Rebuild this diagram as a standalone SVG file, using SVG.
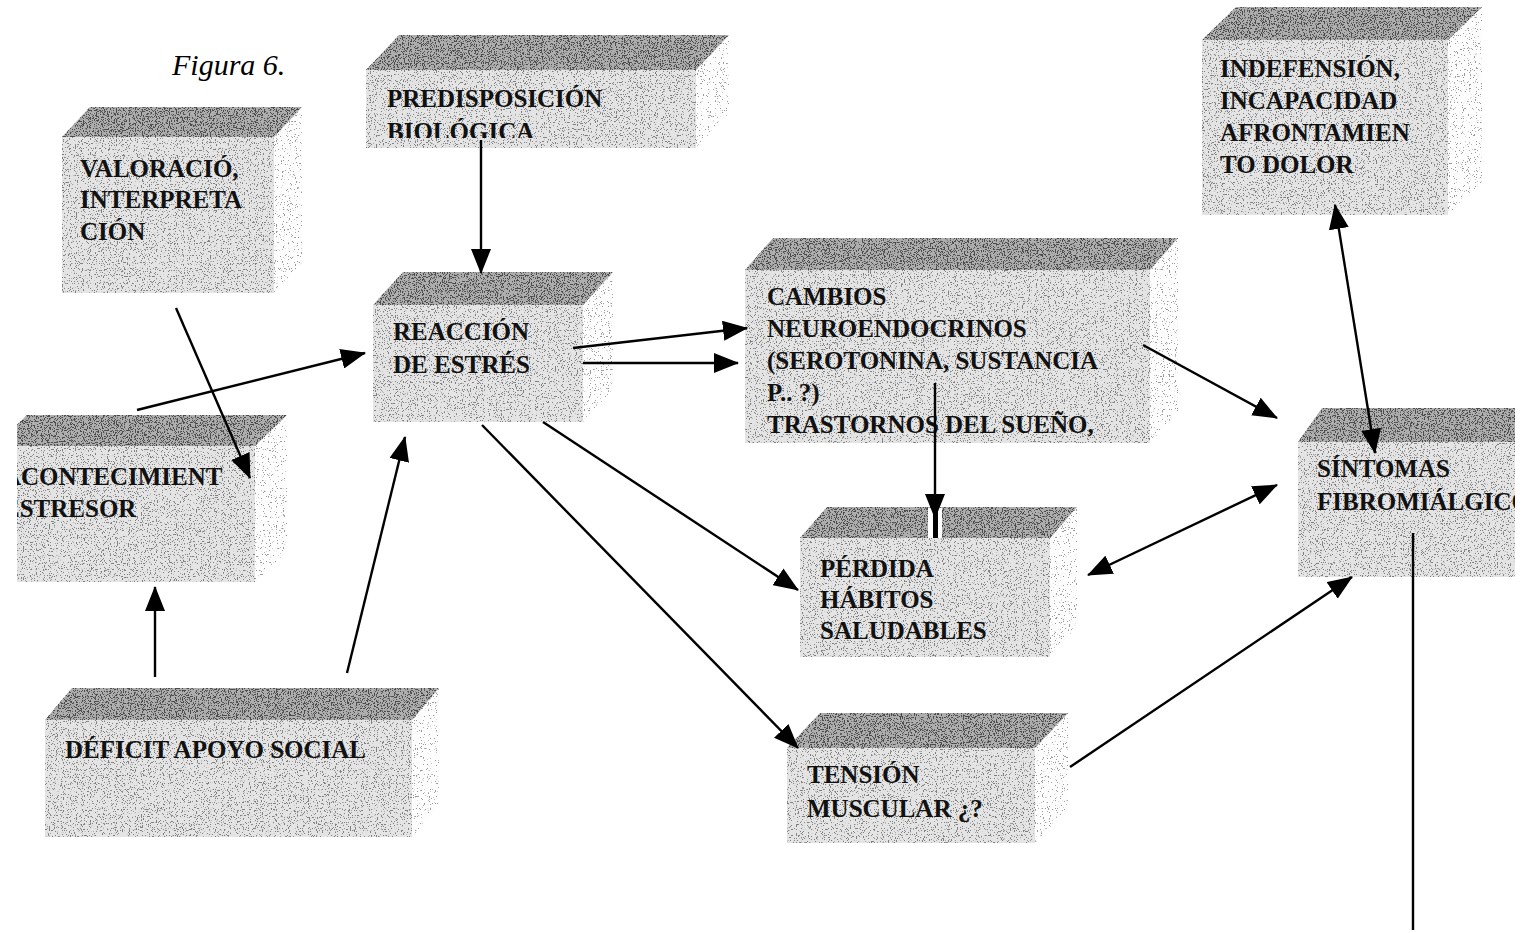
<svg xmlns="http://www.w3.org/2000/svg" width="1525" height="933" viewBox="0 0 1525 933">
<defs>
<filter id="fTop" x="0" y="0" width="1" height="1" color-interpolation-filters="sRGB">
<feTurbulence type="fractalNoise" baseFrequency="0.85" numOctaves="2" seed="4" result="n"/>
<feColorMatrix in="n" type="matrix" values="0 0 0 0 0.3  0 0 0 0 0.3  0 0 0 0 0.3  -20 0 0 0 9.2" result="d"/>
<feComposite in="d" in2="SourceGraphic" operator="in" result="di"/>
<feMerge><feMergeNode in="SourceGraphic"/><feMergeNode in="di"/></feMerge>
</filter>
<filter id="fBody" x="0" y="0" width="1" height="1" color-interpolation-filters="sRGB">
<feTurbulence type="fractalNoise" baseFrequency="0.85" numOctaves="2" seed="9" result="n"/>
<feColorMatrix in="n" type="matrix" values="0 0 0 0 0.5  0 0 0 0 0.5  0 0 0 0 0.5  -20 0 0 0 7.9" result="d"/>
<feComposite in="d" in2="SourceGraphic" operator="in" result="di"/>
<feMerge><feMergeNode in="SourceGraphic"/><feMergeNode in="di"/></feMerge>
</filter>
<filter id="fSide" x="0" y="0" width="1" height="1" color-interpolation-filters="sRGB">
<feTurbulence type="fractalNoise" baseFrequency="0.85" numOctaves="2" seed="2" result="n"/>
<feColorMatrix in="n" type="matrix" values="0 0 0 0 0.6  0 0 0 0 0.6  0 0 0 0 0.6  -20 0 0 0 7.0" result="d"/>
<feComposite in="d" in2="SourceGraphic" operator="in" result="di"/>
<feMerge><feMergeNode in="SourceGraphic"/><feMergeNode in="di"/></feMerge>
</filter>
<marker id="ah" markerWidth="25" markerHeight="20" refX="24" refY="10" orient="auto-start-reverse" markerUnits="userSpaceOnUse">
<path d="M0,0 L25,10 L0,20 z" fill="#000"/>
</marker>
<clipPath id="cPred"><rect x="366" y="0" width="340" height="138"/></clipPath>
<clipPath id="cAcont"><rect x="17" y="0" width="400" height="933"/></clipPath>
<clipPath id="cSint"><rect x="1200" y="0" width="315" height="933"/></clipPath>
</defs>
<style>
.top{fill:#aeaeae;filter:url(#fTop)}
.body{fill:#e4e4e4;filter:url(#fBody)}
.side{fill:#fdfdfd;filter:url(#fSide)}
.t{font-family:"Liberation Serif","Times New Roman",serif;font-size:25px;font-weight:bold;fill:#111}
.fig{font-family:"Liberation Serif","Times New Roman",serif;font-size:30px;font-style:italic;fill:#000}
.c line{stroke:#000;stroke-width:2.4;fill:none}
.c .a{marker-end:url(#ah)}
.c .b{marker-start:url(#ah);marker-end:url(#ah)}
</style>
<rect width="1525" height="933" fill="#fff"/>
<text class="fig" x="172" y="75">Figura 6.</text>

<g id="n-valoracion">
<polygon class="side" points="274,137 302,107 302,263 274,293"/>
<rect class="body" x="62" y="137" width="212" height="156"/>
<polygon class="top" points="62,137 90,107 302,107 274,137"/>
<text class="t" x="80" y="177">VALORACIÓ,</text>
<text class="t" x="80" y="208">INTERPRETA</text>
<text class="t" x="80" y="240">CIÓN</text>
</g>

<g id="n-predisposicion">
<polygon class="side" points="696,70 729,35 729,113 696,148"/>
<rect class="body" x="366" y="70" width="330" height="78"/>
<polygon class="top" points="366,70 399,35 729,35 696,70"/>
<g clip-path="url(#cPred)">
<text class="t" x="387" y="107">PREDISPOSICIÓN</text>
<text class="t" x="387" y="140">BIOLÓGICA</text>
</g>
</g>

<g id="n-reaccion">
<polygon class="side" points="583,305 613,272 613,389 583,422"/>
<rect class="body" x="373" y="305" width="210" height="117"/>
<polygon class="top" points="373,305 403,272 613,272 583,305"/>
<text class="t" x="393" y="340">REACCIÓN</text>
<text class="t" x="393" y="373">DE ESTRÉS</text>
</g>

<g id="n-acontecimiento" clip-path="url(#cAcont)">
<polygon class="side" points="255,446 287,415 287,551 255,582"/>
<rect class="body" x="-5" y="446" width="260" height="136"/>
<polygon class="top" points="-5,446 27,415 287,415 255,446"/>
<text class="t" x="3" y="485">ACONTECIMIENT</text>
<text class="t" x="3" y="517">ESTRESOR</text>
</g>

<g id="n-deficit">
<polygon class="side" points="412,720 439,688 439,805 412,837"/>
<rect class="body" x="45" y="720" width="367" height="117"/>
<polygon class="top" points="45,720 72,688 439,688 412,720"/>
<text class="t" x="65" y="758">DÉFICIT APOYO SOCIAL</text>
</g>

<g id="n-cambios">
<polygon class="side" points="1150,270 1178,238 1178,411 1150,443"/>
<rect class="body" x="745" y="270" width="405" height="173"/>
<polygon class="top" points="745,270 773,238 1178,238 1150,270"/>
<text class="t" x="767" y="305">CAMBIOS</text>
<text class="t" x="767" y="337">NEUROENDOCRINOS</text>
<text class="t" x="767" y="369">(SEROTONINA, SUSTANCIA</text>
<text class="t" x="767" y="401">P.. ?)</text>
<text class="t" x="767" y="433">TRASTORNOS DEL SUEÑO,</text>
</g>

<g id="n-perdida">
<polygon class="side" points="1050,538 1077,507 1077,626 1050,657"/>
<rect class="body" x="800" y="538" width="250" height="119"/>
<polygon class="top" points="800,538 827,507 1077,507 1050,538"/>
<text class="t" x="820" y="577">PÉRDIDA</text>
<text class="t" x="820" y="608">HÁBITOS</text>
<text class="t" x="820" y="639">SALUDABLES</text>
</g>

<g id="n-tension">
<polygon class="side" points="1035,748 1068,713 1068,808 1035,843"/>
<rect class="body" x="787" y="748" width="248" height="95"/>
<polygon class="top" points="787,748 820,713 1068,713 1035,748"/>
<text class="t" x="807" y="783">TENSIÓN</text>
<text class="t" x="807" y="817">MUSCULAR ¿?</text>
</g>

<g id="n-indefension">
<polygon class="side" points="1448,40 1482,7 1482,182 1448,215"/>
<rect class="body" x="1202" y="40" width="246" height="175"/>
<polygon class="top" points="1202,40 1236,7 1482,7 1448,40"/>
<text class="t" x="1220" y="77">INDEFENSIÓN,</text>
<text class="t" x="1220" y="109">INCAPACIDAD</text>
<text class="t" x="1220" y="141">AFRONTAMIEN</text>
<text class="t" x="1220" y="173">TO DOLOR</text>
</g>

<g id="n-sintomas" clip-path="url(#cSint)">
<rect class="body" x="1298" y="442" width="250" height="135"/>
<polygon class="top" points="1298,442 1322,408 1572,408 1548,442"/>
<text class="t" x="1317" y="477">SÍNTOMAS</text>
<text class="t" x="1317" y="510">FIBROMIÁLGICOS</text>
</g>

<g id="connectors" class="c">
<line class="a" x1="481" y1="140" x2="481" y2="273"/>
<line class="a" x1="176" y1="308" x2="250" y2="478"/>
<line class="a" x1="137" y1="410" x2="365" y2="353"/>
<line class="a" x1="155" y1="677" x2="155" y2="587"/>
<line class="a" x1="347" y1="673" x2="405" y2="437"/>
<line class="a" x1="573" y1="348" x2="747" y2="328"/>
<line class="a" x1="583" y1="363" x2="738" y2="363"/>
<line class="a" x1="543" y1="422" x2="798" y2="590"/>
<line class="a" x1="482" y1="425" x2="798" y2="748"/>
<rect x="928" y="508" width="14" height="30" fill="#fff"/>
<line x1="935.5" y1="505" x2="935.5" y2="538" style="stroke-width:5"/>
<line class="a" x1="935" y1="383" x2="935" y2="518"/>
<line class="a" x1="1143" y1="345" x2="1277" y2="418"/>
<line class="b" x1="1088" y1="575" x2="1277" y2="485"/>
<line class="a" x1="1070" y1="767" x2="1352" y2="577"/>
<line class="b" x1="1335" y1="205" x2="1375" y2="453"/>
<line x1="1413" y1="533" x2="1413" y2="930"/>
</g>
</svg>
